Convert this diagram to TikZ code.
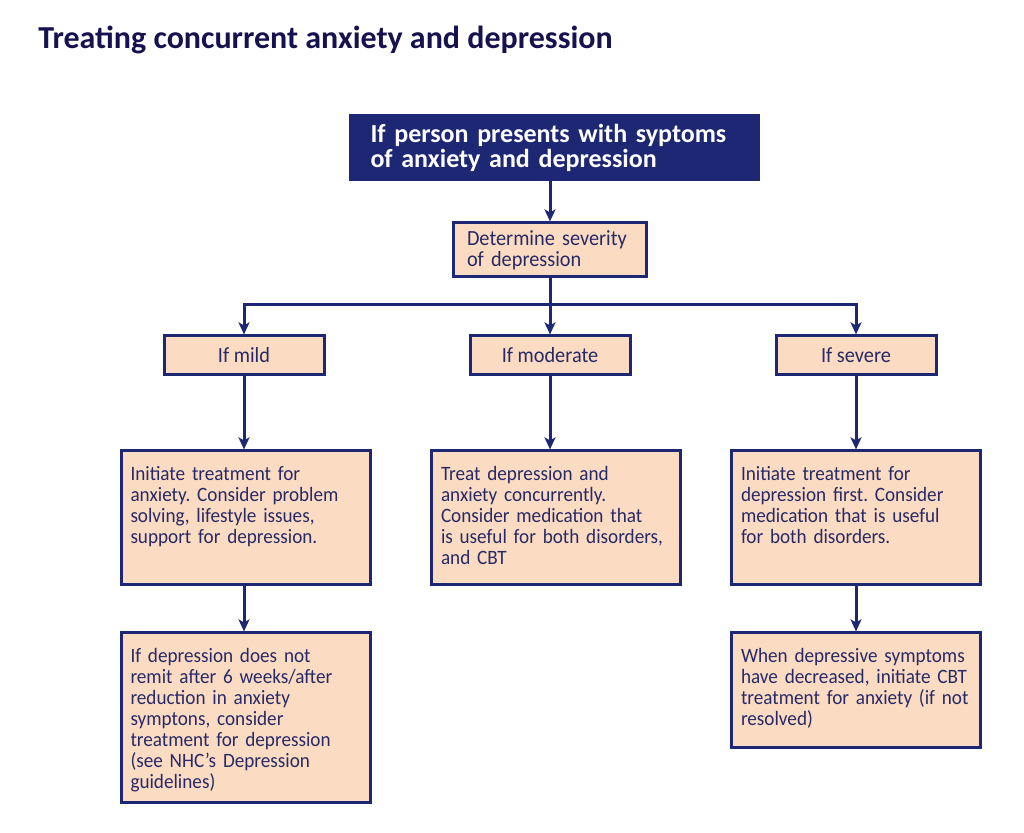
\documentclass[tikz,border=0pt]{standalone}
\usepackage{fontspec}
\setmainfont{Carlito}[UprightFeatures = {FakeStretch = 0.94}]
\usepackage{tikz}
\usetikzlibrary{arrows.meta, positioning}
\definecolor{nblue}{HTML}{1D2773}
\definecolor{ntitle}{HTML}{16124F}
\definecolor{ntext}{HTML}{262A66}
\definecolor{npeach}{HTML}{FCDBC3}
\tikzstyle{headbox} = [rectangle, fill = nblue, text = white, font = \bfseries\fontsize{13}{12.5}\selectfont, text width = 184pt, inner xsep = 10.75pt, minimum height = 33.5pt, align = left]
\tikzstyle{stepbox} = [rectangle, draw = nblue, line width = 1.5pt, fill = npeach, text = ntext, font = \fontsize{10.8}{10.5}\selectfont, text width = 83pt, inner xsep = 6.75pt, minimum height = 27pt, align = left]
\tikzstyle{choice} = [rectangle, draw = nblue, line width = 1.5pt, fill = npeach, text = ntext, font = \fontsize{10.8}{10.5}\selectfont, minimum width = 80pt, minimum height = 19.5pt, text centered]
\tikzstyle{treat} = [rectangle, draw = nblue, line width = 1.5pt, fill = npeach, text = ntext, font = \fontsize{10.2}{10.5}\selectfont, text width = 115pt, inner xsep = 4.75pt, inner ysep = 7pt, text height = 8pt, align = left]
\tikzstyle{flow} = [draw = nblue, line width = 1.5pt, -{Stealth[length = 6pt, width = 5.5pt, inset = 1.5pt]}]

\begin{document}
\frenchspacing\hyphenpenalty=10000
\begin{tikzpicture}[x = 0.5pt, y = -0.5pt]
\useasboundingbox (0,0) rectangle (1024,833);
\node (title) [anchor = base west, text = ntitle, font = \bfseries\fontsize{16}{18}\selectfont, inner sep = 0pt] at (38,49) {Treating concurrent anxiety and depression};
\node (present) [headbox] at (554.5,147.5) {If person presents with syptoms\\of anxiety and depression};
\node (severity) [stepbox, below = 20pt of present, xshift = -2.25pt] {Determine severity\\of depression};
\node (moderate) [choice, below = 28pt of severity] {If moderate};
\node (mild) [choice, left = 71.5pt of moderate] {If mild};
\node (severe) [choice, right = 71.5pt of moderate] {If severe};
\node (mildtreat) [treat, text depth = 45pt, below = 36.5pt of mild, xshift = 0.75pt] {Initiate treatment for\\anxiety. Consider problem\\solving, lifestyle issues,\\support for depression.};
\node (modtreat) [treat, text depth = 45pt, below = 36.5pt of moderate, xshift = 3pt] {Treat depression and\\anxiety concurrently.\\Consider medication that\\is useful for both disorders,\\and CBT};
\node (sevtreat) [treat, text depth = 45pt, below = 36.5pt of severe] {Initiate treatment for\\depression first. Consider\\medication that is useful\\for both disorders.};
\node (mildnext) [treat, text depth = 63pt, below = 22.5pt of mildtreat] {If depression does not\\remit after 6 weeks/after\\reduction in anxiety\\symptons, consider\\treatment for depression\\(see NHC's Depression\\guidelines)};
\node (sevnext) [treat, text depth = 35.5pt, below = 22.5pt of sevtreat] {When depressive symptoms\\have decreased, initiate CBT\\treatment for anxiety (if not\\resolved)};
\path (severity.south) ++(0,26) coordinate (split);
\draw [flow] (present.south -| severity) -- (severity);
\draw [flow] (severity) -- (moderate);
\draw [flow] (split) -| (mild);
\draw [flow] (split) -| (severe);
\draw [flow] (mild) -- (mild |- mildtreat.north);
\draw [flow] (moderate) -- (moderate |- modtreat.north);
\draw [flow] (severe) -- (severe |- sevtreat.north);
\draw [flow] (mildtreat.south -| mild) -- (mild |- mildnext.north);
\draw [flow] (sevtreat.south -| severe) -- (severe |- sevnext.north);
\end{tikzpicture}
\end{document}
